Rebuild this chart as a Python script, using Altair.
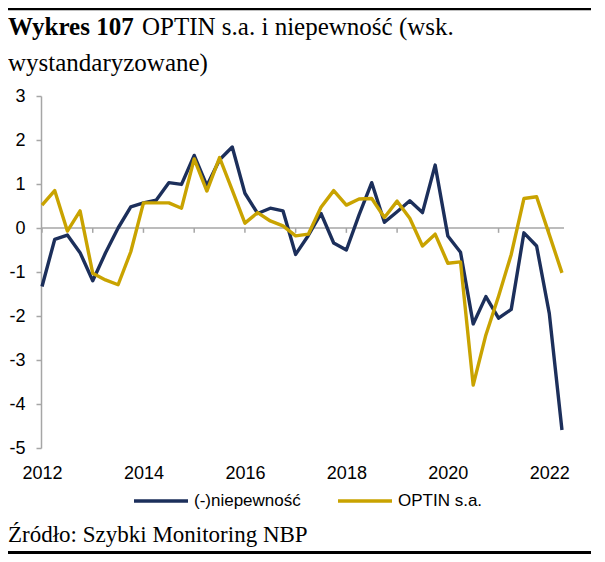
import altair as alt
import pandas as pd

# ---------------- data ----------------
quarters = [f"{y}Q{q}" for y in range(2012, 2023) for q in range(1, 5)][:42]

niepewnosc = [-1.33, -0.26, -0.16, -0.56, -1.20, -0.57, 0.00, 0.48,
              0.57, 0.63, 1.03, 0.99, 1.65, 0.96, 1.55, 1.84,
              0.79, 0.33, 0.45, 0.39, -0.60, -0.17, 0.33, -0.34,
              -0.50, 0.30, 1.03, 0.13, 0.37, 0.62, 0.35, 1.43,
              -0.18, -0.55, -2.18, -1.56, -2.05, -1.85, -0.11, -0.41,
              -1.94, -4.59]

optin = [0.52, 0.85, -0.07, 0.39, -1.03, -1.18, -1.29, -0.54,
         0.57, 0.57, 0.57, 0.45, 1.57, 0.84, 1.60, 0.86,
         0.11, 0.35, 0.16, 0.05, -0.18, -0.14, 0.47, 0.85,
         0.52, 0.66, 0.67, 0.24, 0.61, 0.22, -0.41, -0.14,
         -0.80, -0.77, -3.57, -2.43, -1.55, -0.60, 0.67, 0.71,
         -0.15, -1.02]

series_names = ["(-)niepewność", "OPTIN s.a."]
year_label_pos = [0, 8, 16, 24, 32, 40]
tick_pos = [0, 4, 8, 12, 16, 20, 24, 28, 32, 36, 40]
y_ticks = [-5, -4, -3, -2, -1, 0, 1, 2, 3]

title_bold = "Wykres 107"
title_rest = "OPTIN s.a. i niepewność (wsk."
title_line2 = "wystandaryzowane)"
source_text = "Źródło: Szybki Monitoring NBP"

rows = []
for i, q in enumerate(quarters):
    rows.append({"t": i, "kwartal": q, "series": series_names[0], "value": niepewnosc[i]})
for i, q in enumerate(quarters):
    rows.append({"t": i, "kwartal": q, "series": series_names[1], "value": optin[i]})
df = pd.DataFrame(rows)
ticks_df = pd.DataFrame({"t": tick_pos})

# ---------------- style ----------------
NAVY = "#1c2f5b"
GOLD = "#c9a300"
GRAY = "#a6a6a6"
SANS = "Liberation Sans, Arial, sans-serif"
SERIF = "Liberation Serif, Times New Roman, serif"

W, H = 523, 352
PAD_L, PAD_T = 33, 88

xscale = alt.Scale(domain=[-0.08, 41.16], nice=False, zero=False)
yscale = alt.Scale(domain=[-5, 3], nice=False, zero=False)

lines = alt.Chart(df).mark_line(strokeWidth=3.4, strokeJoin="round").encode(
    x=alt.X("t:Q", scale=xscale,
            axis=alt.Axis(values=year_label_pos,
                          labelExpr="toString(2012 + datum.value / 4)",
                          domain=False, ticks=False, grid=False,
                          labelFlush=False, labelOverlap=False,
                          labelPadding=16, labelFont=SANS, labelFontSize=18,
                          labelColor="black", title=None)),
    y=alt.Y("value:Q", scale=yscale,
            axis=alt.Axis(values=y_ticks, grid=False,
                          labelExpr="toString(datum.value)",
                          domainColor=GRAY, domainWidth=1.5,
                          tickColor=GRAY, tickWidth=1.5, tickSize=5,
                          labelFlush=False, labelOverlap=False,
                          labelPadding=11, labelFont=SANS, labelFontSize=18,
                          labelColor="black", title=None)),
    color=alt.Color("series:N",
                    scale=alt.Scale(domain=series_names, range=[NAVY, GOLD]),
                    sort=series_names,
                    legend=alt.Legend(orient="none", legendX=91, legendY=376,
                                      direction="horizontal", title=None,
                                      symbolType="stroke", symbolSize=2916,
                                      symbolStrokeWidth=3.5,
                                      labelFont=SANS, labelFontSize=17,
                                      labelColor="black", labelOffset=4,
                                      columnPadding=30, padding=0)),
)

one = alt.Data(values=[{}])

zero_line = alt.Chart(one).mark_rule(color=GRAY, strokeWidth=1.6).encode(
    y=alt.datum(0, scale=yscale), x=alt.value(0), x2=alt.value(W))

zero_ticks = alt.Chart(ticks_df).mark_rule(color=GRAY, strokeWidth=1.5).encode(
    x=alt.X("t:Q", scale=xscale), y=alt.datum(0), y2=alt.datum(-0.11))

def txt(s, x, y, size, weight="normal", font=SERIF):
    return alt.Chart(one).mark_text(text=s, align="left", baseline="alphabetic",
                                    font=font, fontSize=size, fontWeight=weight,
                                    color="black").encode(
        x=alt.value(x), y=alt.value(y))

t1 = txt(title_bold, -PAD_L, -61, 25, "bold")
t2 = txt(title_rest, 101, -61, 25)
t3 = txt(title_line2, -PAD_L, -25, 25)
src = txt(source_text, -PAD_L, 446, 23)

top_rule = alt.Chart(one).mark_rule(color="black", strokeWidth=3).encode(
    x=alt.value(-PAD_L), x2=alt.value(550), y=alt.value(-87.2))
bot_rule = alt.Chart(one).mark_rule(color="black", strokeWidth=3).encode(
    x=alt.value(-PAD_L), x2=alt.value(550), y=alt.value(456.5))

chart = alt.layer(zero_line, zero_ticks, lines, t1, t2, t3, src, top_rule, bot_rule).properties(
    width=W, height=H,
    autosize=alt.AutoSizeParams(type="none"),
    padding={"left": PAD_L, "top": PAD_T, "right": 33, "bottom": 106},
    background="white",
).configure_view(stroke=None)

chart.save("out.html", embed_options={"renderer": "svg", "actions": False})
